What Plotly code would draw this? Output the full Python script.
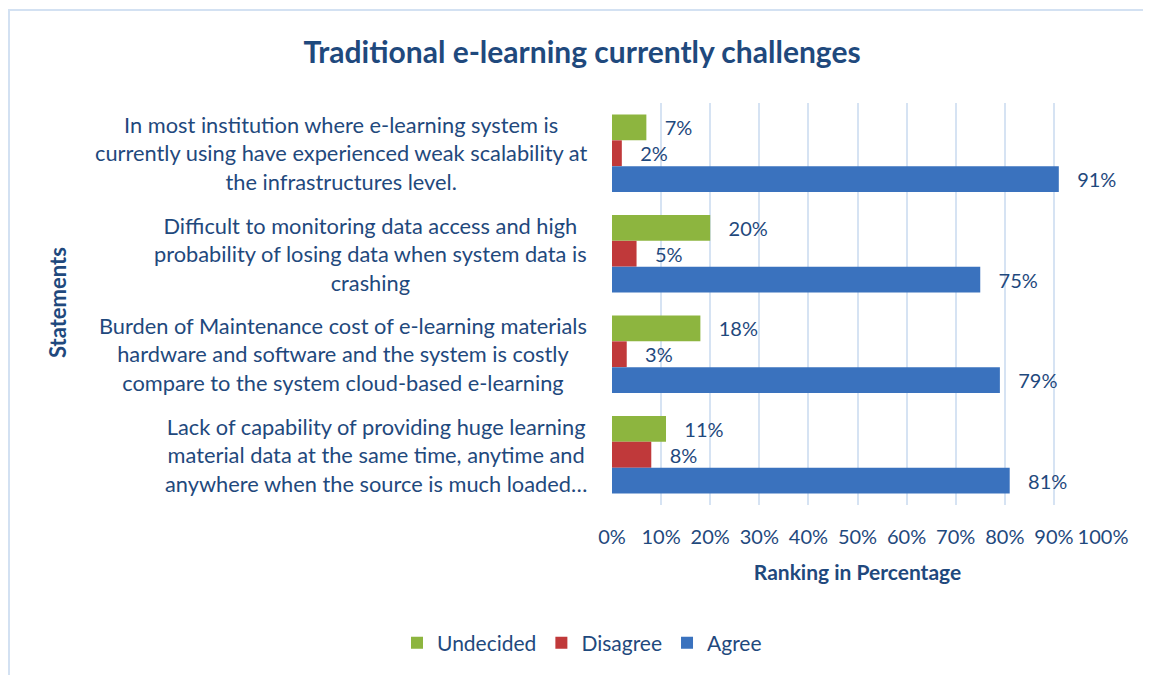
import plotly.graph_objects as go

categories = [
    "In most institution where e-learning system is<br>currently using have experienced weak scalability at<br>the infrastructures level.",
    "Difficult to monitoring data access and high<br>probability of losing data when system data is<br>crashing",
    "Burden of Maintenance cost of e-learning materials<br>hardware and software and the system is costly<br>compare to the system cloud-based e-learning",
    "Lack of capability of providing huge learning<br>material data at the same time, anytime and<br>anywhere when the source is much loaded…",
]
undecided = [7, 20, 18, 11]
disagree = [2, 5, 3, 8]
agree = [91, 75, 79, 81]
x_ticks = [0, 10, 20, 30, 40, 50, 60, 70, 80, 90, 100]
x_ticklabels = [f"{v}%" for v in x_ticks]

FONT = "Lato"
TXT = "#1F497D"
O = 8  # browser body margin offset
W, H = 1151 - O, 675 - O
# plot area in reference-pixel coordinates
PL, PR, PT, PB = 612, 1103, 103, 505
L, R, T, B = PL - O, W - (PR - O), PT - O, H - (PB - O)
PW, PH = PR - PL, PB - PT


def px(xr):
    return (xr - PL) / PW


def py(yr):
    return (PB - yr) / PH


series = [
    ("Undecided", undecided, "#8DB53F"),
    ("Disagree", disagree, "#C0393A"),
    ("Agree", agree, "#3A72BE"),
]

fig = go.Figure()
for name, vals, col in series:
    fig.add_trace(go.Bar(
        name=name, y=categories, x=vals, orientation="h",
        marker=dict(color=col, line=dict(width=0)),
        text=[f"{v}%" for v in vals],
        texttemplate="\u00a0\u00a0\u00a0%{text}", textposition="outside",
        textfont=dict(family=FONT, size=20, color=TXT),
        constraintext="none", cliponaxis=False,
    ))

annotations = []
for c in categories:
    annotations.append(dict(
        text=c, xref="paper", yref="y", x=px(589), y=c,
        xanchor="right", yanchor="middle", align="center", showarrow=False,
        font=dict(family=FONT, size=21.8, color=TXT),
    ))
annotations.append(dict(
    text="<b>Statements</b>", xref="paper", yref="paper",
    x=px(57), y=py(303), textangle=-90,
    xanchor="center", yanchor="middle", showarrow=False,
    font=dict(family=FONT, size=22, color=TXT),
))

shapes = [
    dict(type="line", xref="paper", yref="paper",
         x0=px(9), x1=px(9), y0=py(10), y1=py(700),
         line=dict(color="#D3E1F2", width=2)),
    dict(type="line", xref="paper", yref="paper",
         x0=px(8), x1=px(1170), y0=py(10), y1=py(10),
         line=dict(color="#D3E1F2", width=2)),
]

fig.update_layout(
    width=W, height=H,
    margin=dict(l=L, r=R, t=T, b=B),
    paper_bgcolor="white", plot_bgcolor="white",
    barmode="group", bargap=0.23, bargroupgap=0,
    title=dict(text="<b>Traditional e-learning currently challenges</b>",
               x=(582 - O) / W, xanchor="center", y=1 - (52 - O) / H, yanchor="middle",
               font=dict(family=FONT, size=30, color=TXT)),
    xaxis=dict(range=[0, 100], tickvals=x_ticks, ticktext=x_ticklabels,
               showgrid=True, gridcolor="#D6E3F3", gridwidth=1.5,
               zeroline=False, showline=False,
               ticks="outside", ticklen=0, ticklabelstandoff=14,
               tickfont=dict(family=FONT, size=20, color=TXT),
               title=dict(text="<b>Ranking in Percentage</b>", standoff=18,
                          font=dict(family=FONT, size=21, color=TXT))),
    yaxis=dict(categoryorder="array", categoryarray=categories,
               autorange="reversed", showticklabels=False,
               showgrid=False, zeroline=False, showline=False, ticks=""),
    legend=dict(orientation="h", x=px(582), xanchor="center",
                y=py(643), yanchor="middle",
                font=dict(family=FONT, size=21, color=TXT),
                traceorder="normal", itemwidth=30),
    annotations=annotations, shapes=shapes,
)

fig.write_html("out.html")
